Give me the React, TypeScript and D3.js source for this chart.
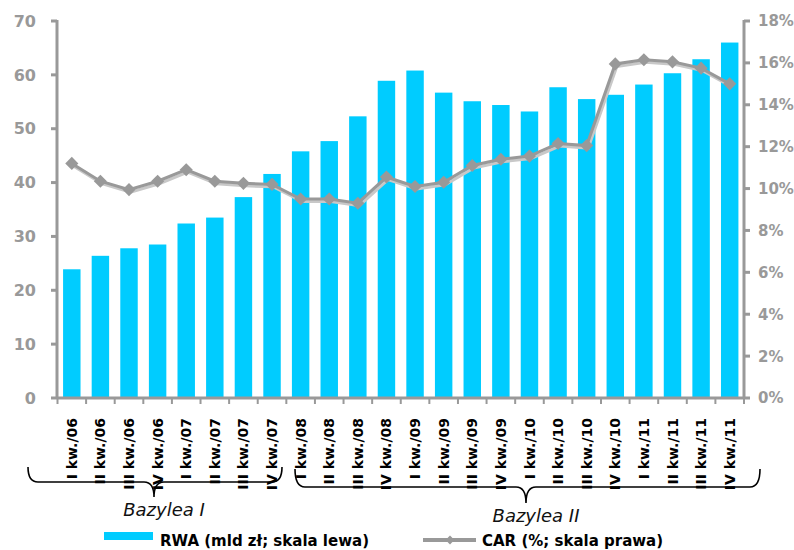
import React from "react";
import * as d3 from "d3";

const categories = [
  "I kw./06", "II kw./06", "III kw./06", "IV kw./06",
  "I kw./07", "II kw./07", "III kw./07", "IV kw./07",
  "I kw./08", "II kw./08", "III kw./08", "IV kw./08",
  "I kw./09", "II kw./09", "III kw./09", "IV kw./09",
  "I kw./10", "II kw./10", "III kw./10", "IV kw./10",
  "I kw./11", "II kw./11", "III kw./11", "IV kw./11",
];

// RWA, mld zl (left axis)
const rwa = [
  23.9, 26.4, 27.8, 28.5, 32.4, 33.5, 37.3, 41.6,
  45.8, 47.7, 52.3, 58.9, 60.8, 56.7, 55.1, 54.4,
  53.2, 57.7, 55.5, 56.3, 58.2, 60.3, 62.9, 66.0,
];

// CAR, % (right axis)
const car = [
  11.2, 10.35, 9.95, 10.35, 10.9, 10.35, 10.25, 10.2,
  9.5, 9.5, 9.3, 10.55, 10.1, 10.3, 11.1, 11.4,
  11.55, 12.15, 12.05, 15.95, 16.15, 16.05, 15.75, 15.0,
];

const leftTicks = [0, 10, 20, 30, 40, 50, 60, 70];
const rightTicks = [0, 2, 4, 6, 8, 10, 12, 14, 16, 18];

const groups = [
  { label: "Bazylea I", x0: 28, x1: 282, xm: 154, top: 467, line: 482, tip: 497 },
  { label: "Bazylea II", x0: 295, x1: 760, xm: 526, top: 469, line: 487, tip: 503 },
];

const GRAY = "#999999";
const BLUE = "#00CCFF";
const FONT = "'DejaVu Sans', Verdana, sans-serif";

const bracePath = (g: typeof groups[number]) => {
  const r = 10;
  return (
    `M${g.x0},${g.top} Q${g.x0},${g.line} ${g.x0 + r},${g.line} ` +
    `L${g.xm - r},${g.line} Q${g.xm},${g.line} ${g.xm},${g.tip} ` +
    `Q${g.xm},${g.line} ${g.xm + r},${g.line} ` +
    `L${g.x1 - r},${g.line} Q${g.x1},${g.line} ${g.x1},${g.top}`
  );
};

const App = () => {
  const left = 57, right = 744, top = 21, bottom = 398;

  const x = d3
    .scaleBand<string>()
    .domain(categories)
    .range([left + 0.5, right])
    .paddingInner(0.39)
    .paddingOuter(0.195);

  const yL = d3.scaleLinear().domain([0, 70]).range([bottom, top]);
  const yR = d3.scaleLinear().domain([0, 18]).range([bottom, top]);

  const cx = (c: string) => (x(c) || 0) + x.bandwidth() / 2;

  const line = d3
    .line<number>()
    .x((_, i) => cx(categories[i]))
    .y((d) => yR(d));

  const diamond = d3.symbol().type(d3.symbolDiamond2).size(110)();
  const diamondSmall = d3.symbol().type(d3.symbolDiamond2).size(50)();

  const step = x.step();
  const boundaries = d3.range(categories.length + 1).map((i) => left + 0.5 + i * step);

  return (
    <svg
      width={794}
      height={550}
      style={{ position: "absolute", left: 0, top: 0, background: "#fff" }}
      fontFamily={FONT}
    >
      {/* bars */}
      {rwa.map((v, i) => (
        <rect
          key={i}
          x={x(categories[i])}
          y={yL(v)}
          width={x.bandwidth()}
          height={bottom - yL(v)}
          fill={BLUE}
        />
      ))}

      {/* left axis */}
      <line x1={left} x2={left} y1={top - 1} y2={bottom} stroke={GRAY} strokeWidth={3} />
      {leftTicks.map((t) => (
        <g key={t}>
          <line x1={left - 6} x2={left} y1={yL(t)} y2={yL(t)} stroke={GRAY} strokeWidth={3} />
          <text
            x={36}
            y={yL(t)}
            dy="0.36em"
            textAnchor="end"
            fontSize={16}
            fontWeight="bold"
            fill={GRAY}
          >
            {t}
          </text>
        </g>
      ))}

      {/* right axis */}
      <line x1={right} x2={right} y1={top - 1} y2={bottom} stroke={GRAY} strokeWidth={3} />
      {rightTicks.map((t) => (
        <g key={t}>
          <line x1={right} x2={right + 6} y1={yR(t)} y2={yR(t)} stroke={GRAY} strokeWidth={3} />
          <text
            x={758}
            y={yR(t)}
            dy="0.36em"
            fontSize={15}
            fontWeight="bold"
            fill={GRAY}
          >
            {t + "%"}
          </text>
        </g>
      ))}

      {/* bottom axis */}
      <line x1={left} x2={right} y1={bottom} y2={bottom} stroke={GRAY} strokeWidth={3} />
      {boundaries.map((b, i) => (
        <line key={i} x1={b} x2={b} y1={bottom} y2={bottom + 6} stroke={GRAY} strokeWidth={2} />
      ))}

      {/* CAR line with shadow */}
      <path
        d={line(car) || ""}
        transform="translate(1.5,2.5)"
        fill="none"
        stroke="#c8c8c8"
        strokeWidth={3}
      />
      <path d={line(car) || ""} fill="none" stroke={GRAY} strokeWidth={3} />
      {car.map((v, i) => (
        <path
          key={i}
          d={diamond || ""}
          transform={`translate(${cx(categories[i])},${yR(v)})`}
          fill={GRAY}
        />
      ))}

      {/* category labels */}
      {categories.map((c) => (
        <text
          key={c}
          transform={`translate(${cx(c)},418) rotate(-90)`}
          dy="0.36em"
          textAnchor="end"
          fontSize={14}
          fontWeight="bold"
          fill="#000"
        >
          {c}
        </text>
      ))}

      {/* braces */}
      {groups.map((g) => (
        <g key={g.label}>
          <path d={bracePath(g)} fill="none" stroke="#000" strokeWidth={1.6} />
          <text
            x={g.xm + 10}
            y={g.tip + 19}
            textAnchor="middle"
            fontSize={18}
            fontStyle="italic"
            fill="#111"
          >
            {g.label}
          </text>
        </g>
      ))}

      {/* legend */}
      <rect x={104} y={532} width={49} height={8} fill={BLUE} />
      <text x={160} y={546} fontSize={15} fontWeight="bold" fill="#000">
        RWA (mld zł; skala lewa)
      </text>
      <line x1={423} x2={476} y1={540} y2={540} stroke={GRAY} strokeWidth={4} />
      <path d={diamondSmall || ""} transform="translate(450,540)" fill={GRAY} />
      <text x={482} y={546} fontSize={15} fontWeight="bold" fill="#000">
        CAR (%; skala prawa)
      </text>
    </svg>
  );
};

export default App;
